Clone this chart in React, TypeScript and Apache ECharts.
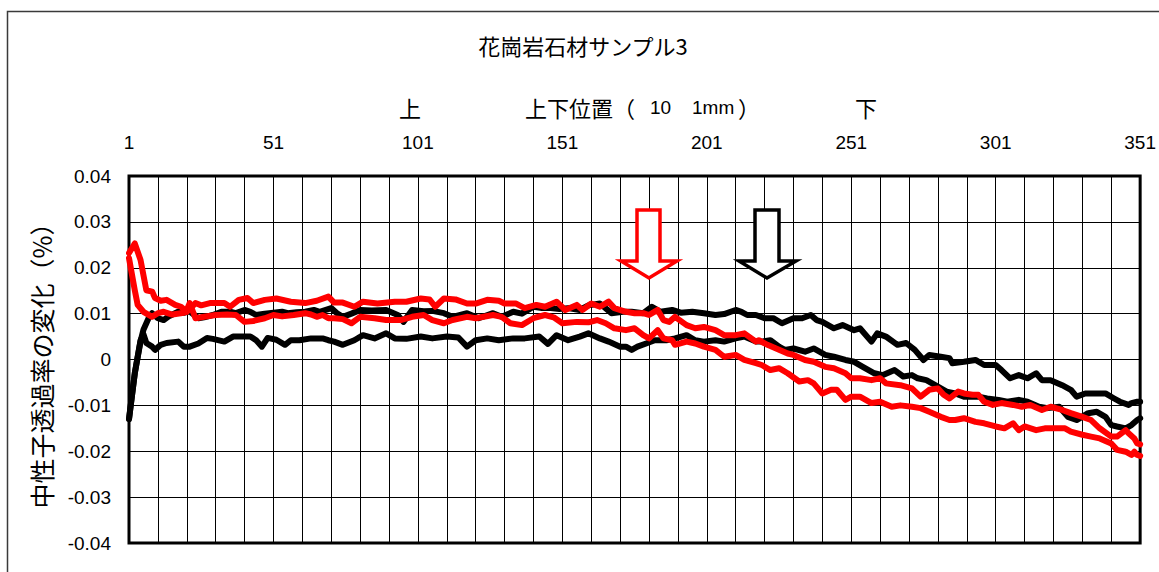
import React, { useEffect, useRef } from "react";
import * as echarts from "echarts";

// Position index 1..351 (上下位置), value = 中性子透過率の変化 (%)
const positions: string[] = Array.from({ length: 351 }, (_, i) => String(i + 1));
const yTicks = [-0.04, -0.03, -0.02, -0.01, 0, 0.01, 0.02, 0.03, 0.04];

// black, upper trace
const blackUpper: [number, number][] = [
  [1, -0.013], [2, -0.008], [3, -0.003], [5, 0.004], [6, 0.0065], [8, 0.0093], [9, 0.0101], [11, 0.009], [13, 0.0086], [15, 0.0095],
  [18, 0.0104], [20, 0.0102], [22, 0.0105], [25, 0.009], [27, 0.0092], [30, 0.0097], [33, 0.0104], [36, 0.0104], [38, 0.0101], [41, 0.0108],
  [43, 0.0104], [45, 0.0097], [48, 0.01], [51, 0.0102], [54, 0.0104], [56, 0.0101], [59, 0.0103], [62, 0.0104], [65, 0.0108], [67, 0.0104],
  [71, 0.0112], [73, 0.0101], [75, 0.0093], [78, 0.01], [81, 0.0108], [85, 0.0107], [90, 0.0108], [94, 0.0097], [96, 0.0082], [99, 0.0108],
  [103, 0.0105], [106, 0.0106], [110, 0.0101], [113, 0.0093], [118, 0.0101], [122, 0.009], [127, 0.0101], [130, 0.0093], [134, 0.0104], [137, 0.01],
  [141, 0.0115], [144, 0.0112], [147, 0.0112], [150, 0.011], [153, 0.0112], [157, 0.0108], [160, 0.0118], [164, 0.0122], [168, 0.0101], [172, 0.0104],
  [175, 0.0104], [179, 0.0101], [182, 0.0115], [185, 0.0104], [189, 0.0108], [192, 0.0102], [196, 0.0104], [200, 0.0101], [204, 0.0097], [207, 0.0099],
  [211, 0.0108], [213, 0.0104], [215, 0.0097], [218, 0.0097], [221, 0.009], [224, 0.009], [227, 0.0079], [231, 0.009], [234, 0.009], [237, 0.0097],
  [239, 0.0086], [241, 0.0082], [245, 0.0068], [248, 0.0075], [252, 0.0064], [254, 0.0068], [258, 0.0039], [260, 0.0057], [263, 0.005], [267, 0.0032],
  [270, 0.0036], [273, 0.0021], [276, -0.0001], [278, 0.001], [282, 0.0006], [285, 0.0003], [286, -0.0008], [290, -0.0005], [294, -0.0001], [297, -0.0012],
  [301, -0.0012], [303, -0.0023], [306, -0.0041], [309, -0.0034], [312, -0.0041], [315, -0.003], [317, -0.0045], [320, -0.0045], [324, -0.0056], [327, -0.0066],
  [329, -0.0081], [332, -0.0074], [335, -0.0074], [339, -0.0074], [342, -0.0085], [344, -0.0092], [347, -0.0099], [348, -0.0095], [350, -0.0092], [351, -0.0092],
];

// black, lower trace
const blackLower: [number, number][] = [
  [1, -0.013], [2, -0.008], [3, -0.003], [5, 0.0042], [6, 0.0055], [7, 0.0036], [9, 0.0028], [10, 0.0021], [12, 0.0032], [14, 0.0036],
  [18, 0.0039], [20, 0.0028], [22, 0.0028], [25, 0.0035], [28, 0.0047], [30, 0.0045], [34, 0.0039], [37, 0.005], [40, 0.005], [43, 0.005],
  [45, 0.0042], [47, 0.0028], [49, 0.0047], [52, 0.0043], [55, 0.0032], [57, 0.0042], [60, 0.0042], [64, 0.0046], [68, 0.0046], [70, 0.0042],
  [72, 0.0039], [75, 0.0032], [79, 0.0042], [82, 0.0053], [86, 0.0046], [90, 0.0057], [93, 0.0046], [97, 0.0045], [102, 0.005], [106, 0.0046],
  [111, 0.005], [115, 0.0048], [118, 0.0028], [121, 0.0042], [125, 0.0046], [129, 0.0042], [134, 0.0046], [138, 0.0046], [143, 0.005], [146, 0.0034],
  [149, 0.0053], [153, 0.0042], [157, 0.005], [160, 0.0057], [164, 0.0046], [167, 0.0039], [171, 0.0028], [173, 0.0028], [175, 0.0021], [177, 0.0028],
  [180, 0.0035], [183, 0.0042], [187, 0.0042], [190, 0.0046], [194, 0.0053], [197, 0.0042], [200, 0.0039], [204, 0.0042], [207, 0.0039], [211, 0.0046],
  [214, 0.005], [218, 0.0039], [220, 0.0039], [223, 0.0042], [226, 0.0028], [228, 0.0021], [231, 0.0024], [235, 0.0017], [238, 0.0024], [242, 0.001],
  [245, 0.0006], [249, -0.0001], [252, -0.0005], [255, -0.0016], [259, -0.003], [262, -0.0034], [266, -0.0023], [269, -0.0037], [272, -0.0034], [274, -0.0041],
  [277, -0.0045], [281, -0.0059], [284, -0.007], [287, -0.0074], [290, -0.0081], [295, -0.0081], [298, -0.0085], [302, -0.0088], [305, -0.0092], [309, -0.0088],
  [312, -0.0092], [316, -0.0103], [319, -0.0106], [323, -0.0103], [326, -0.0125], [329, -0.0132], [333, -0.0117], [336, -0.0114], [339, -0.0125], [341, -0.0143],
  [343, -0.0146], [346, -0.015], [348, -0.0143], [350, -0.0132], [351, -0.0128],
];

// red, upper trace
const redUpper: [number, number][] = [
  [1, 0.0232], [3, 0.0253], [5, 0.0217], [7, 0.0151], [9, 0.0148], [10, 0.0134], [12, 0.0128], [14, 0.013], [17, 0.0119], [19, 0.0115],
  [21, 0.0104], [22, 0.011], [24, 0.0123], [26, 0.0118], [29, 0.0123], [34, 0.0123], [36, 0.0115], [39, 0.013], [42, 0.0134], [44, 0.0123],
  [48, 0.013], [52, 0.0133], [57, 0.0126], [62, 0.0123], [66, 0.0128], [70, 0.0137], [72, 0.0124], [75, 0.0124], [79, 0.0115], [82, 0.0126],
  [87, 0.0122], [93, 0.0126], [97, 0.0126], [102, 0.0133], [105, 0.0131], [107, 0.0115], [110, 0.0133], [114, 0.0131], [118, 0.0122], [121, 0.0122],
  [125, 0.013], [129, 0.0128], [131, 0.0122], [135, 0.0122], [138, 0.0112], [142, 0.0119], [145, 0.0115], [149, 0.0126], [152, 0.0108], [156, 0.0119],
  [158, 0.0108], [161, 0.0122], [164, 0.0115], [167, 0.0126], [169, 0.0112], [173, 0.0104], [176, 0.0101], [179, 0.0101], [181, 0.0097], [184, 0.0108],
  [186, 0.0086], [188, 0.0082], [190, 0.0093], [194, 0.0075], [197, 0.0068], [200, 0.0071], [204, 0.0064], [207, 0.0053], [211, 0.0053], [214, 0.0057],
  [218, 0.0039], [219, 0.0042], [222, 0.0032], [226, 0.0021], [229, 0.0013], [231, 0.001], [235, -0.0001], [238, -0.0005], [242, -0.0016], [245, -0.0019],
  [249, -0.003], [251, -0.0041], [254, -0.0041], [258, -0.0045], [261, -0.0041], [263, -0.0052], [268, -0.0056], [272, -0.0063], [275, -0.0081], [278, -0.0066],
  [281, -0.0063], [283, -0.0077], [285, -0.0085], [288, -0.007], [290, -0.0074], [293, -0.0077], [295, -0.0077], [297, -0.0092], [300, -0.0099], [303, -0.0095],
  [307, -0.0099], [310, -0.0103], [313, -0.0099], [317, -0.011], [320, -0.0103], [324, -0.011], [327, -0.0117], [331, -0.0125], [334, -0.0132], [337, -0.015],
  [341, -0.0168], [343, -0.0168], [346, -0.0154], [347, -0.0161], [349, -0.0172], [350, -0.0183], [351, -0.0185],
];

// red, lower trace
const redLower: [number, number][] = [
  [1, 0.0221], [3, 0.0151], [4, 0.0119], [6, 0.0104], [9, 0.0093], [11, 0.0101], [13, 0.0104], [16, 0.0098], [20, 0.0102], [21, 0.0108],
  [22, 0.0123], [24, 0.009], [27, 0.0093], [31, 0.0097], [35, 0.0098], [38, 0.0097], [41, 0.0082], [44, 0.0084], [48, 0.009], [51, 0.0097],
  [54, 0.0094], [58, 0.0097], [62, 0.0101], [64, 0.0098], [66, 0.0093], [68, 0.0097], [70, 0.009], [72, 0.009], [75, 0.0088], [78, 0.0079],
  [81, 0.0093], [86, 0.009], [90, 0.0086], [95, 0.0086], [99, 0.0093], [103, 0.0097], [106, 0.0086], [110, 0.0079], [113, 0.0086], [118, 0.0093],
  [121, 0.009], [127, 0.0097], [130, 0.0093], [133, 0.0079], [137, 0.0075], [141, 0.009], [145, 0.0097], [148, 0.0092], [151, 0.0079], [156, 0.0082],
  [160, 0.0081], [163, 0.0086], [166, 0.0079], [169, 0.0068], [173, 0.0064], [176, 0.0068], [179, 0.0053], [181, 0.0046], [184, 0.0064], [186, 0.0046],
  [189, 0.0042], [190, 0.0032], [194, 0.0039], [197, 0.0035], [200, 0.0028], [204, 0.0021], [207, 0.0006], [211, 0.001], [214, -0.0001], [218, -0.0008],
  [220, -0.0012], [223, -0.0023], [226, -0.0019], [229, -0.003], [233, -0.0048], [236, -0.0045], [238, -0.0052], [241, -0.0074], [244, -0.0066], [246, -0.0066],
  [249, -0.0088], [251, -0.0081], [254, -0.0081], [258, -0.0095], [261, -0.0092], [265, -0.0103], [268, -0.01], [272, -0.0103], [275, -0.0106], [278, -0.0114],
  [282, -0.0125], [285, -0.0132], [287, -0.0132], [290, -0.0128], [294, -0.0136], [297, -0.0139], [301, -0.0146], [304, -0.015], [307, -0.0139], [309, -0.0154],
  [311, -0.0146], [315, -0.0154], [318, -0.015], [321, -0.015], [325, -0.015], [327, -0.0157], [331, -0.0164], [334, -0.0168], [337, -0.0172], [341, -0.0183],
  [343, -0.0197], [346, -0.0201], [348, -0.0208], [349, -0.0201], [350, -0.0208], [351, -0.021],
];

const titleText = "花崗岩石材サンプル3";
const yName = "中性子透過率の変化（%）";

function toSeries(pts: [number, number][]): (number | null)[] {
  const arr: (number | null)[] = new Array(positions.length).fill(null);
  for (const [p, v] of pts) arr[p - 1] = v;
  return arr;
}

const CJK = "Noto Sans CJK JP";
const LAT = "Liberation Sans";

function txt(text: string, x: number, y: number, size: number, family: string, align: string) {
  return {
    type: "text", x, y, z: 10,
    style: {
      text, fontSize: size, fontFamily: family, fill: "#000",
      align, verticalAlign: "middle", textAlign: align, textVerticalAlign: "middle",
    },
  };
}

export default function App() {
  const ref = useRef<HTMLDivElement>(null);
  useEffect(() => {
    if (!ref.current) return;
    const chart = echarts.init(ref.current, null, { renderer: "svg" });
    const line = (data: [number, number][], color: string, z: number) => ({
      type: "line",
      data: toSeries(data),
      connectNulls: true,
      showSymbol: false,
      symbol: "none",
      z,
      lineStyle: { color, width: 6, join: "round", cap: "round" },
      itemStyle: { color },
    });
    chart.setOption({
      animation: false,
      backgroundColor: "#fff",
      grid: {
        left: 129, right: 14, top: 176, bottom: 29,
        show: true, borderColor: "#000", borderWidth: 3, backgroundColor: "transparent",
      },
      xAxis: {
        type: "category",
        data: positions,
        position: "top",
        boundaryGap: false,
        axisLine: { show: false },
        axisTick: { show: false },
        axisLabel: { interval: 49, margin: 24, fontSize: 19, fontFamily: LAT, color: "#000" },
        splitLine: { show: true, interval: 9, lineStyle: { color: "#000", width: 1 } },
      },
      yAxis: {
        type: "value",
        min: yTicks[0],
        max: yTicks[yTicks.length - 1],
        interval: 0.01,
        axisLine: { show: false },
        axisTick: { show: false },
        axisLabel: {
          margin: 18, fontSize: 19, fontFamily: LAT, color: "#000",
          formatter: (v: number) => String(Math.round(v * 100) / 100),
        },
        splitLine: { show: true, lineStyle: { color: "#000", width: 1 } },
        name: yName,
        nameLocation: "middle",
        nameRotate: 90,
        nameGap: 76,
        nameTextStyle: { fontSize: 25, fontFamily: CJK, color: "#000" },
      },
      series: [
        line(blackUpper, "#000000", 2),
        line(blackLower, "#000000", 2),
        line(redUpper, "#ff0000", 3),
        line(redLower, "#ff0000", 3),
      ],
      graphic: [
        {
          type: "rect", silent: true, z: -10,
          shape: { x: 7.5, y: 11.5, width: 1170, height: 600 },
          style: { fill: "none", stroke: "#3a3a3a", lineWidth: 1.5 },
        },
        txt(titleText, 583, 45, 22, CJK, "center"),
        txt("上", 410, 107, 22, CJK, "center"),
        txt("上下位置（", 525, 107, 22, CJK, "left"),
        txt("10", 650, 107, 19, LAT, "left"),
        txt("1mm", 692, 107, 19, LAT, "left"),
        txt("）", 738, 107, 22, CJK, "left"),
        txt("下", 866, 107, 22, CJK, "center"),
        {
          type: "polygon", z: 100,
          shape: { points: [[637, 210], [660, 210], [660, 261], [677, 261], [649, 278], [621, 261], [637, 261]] },
          style: { fill: "#fff", stroke: "#ff0000", lineWidth: 3.5, lineJoin: "miter" },
        },
        {
          type: "polygon", z: 100,
          shape: { points: [[755, 210], [779, 210], [779, 261], [796, 261], [767, 278], [739, 261], [755, 261]] },
          style: { fill: "#fff", stroke: "#000", lineWidth: 3.5, lineJoin: "miter" },
        },
      ],
    });
    return () => chart.dispose();
  }, []);
  return (
    <div
      ref={ref}
      style={{ position: "fixed", left: 0, top: 0, width: 1159, height: 572, background: "#fff" }}
    />
  );
}
